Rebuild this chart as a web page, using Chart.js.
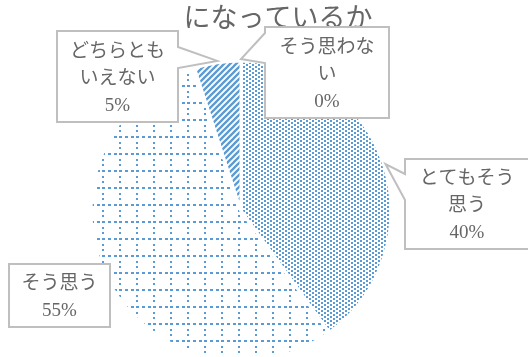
<!DOCTYPE html>
<html>
<head>
<meta charset="utf-8">
<script src="https://cdn.jsdelivr.net/npm/chart.js@4"></script>
<style>
    html, body { margin: 0; padding: 0; background: #fff; }
</style>
</head>
<body>
<canvas id="pieChart" width="528" height="357"></canvas>
<script>
const titleText = 'になっているか';
const categories = ['とてもそう思う', 'そう思う', 'どちらともいえない', 'そう思わない'];
const percentValues = [40, 55, 5, 0];

const blue = '#5b9bd5';
const textColor = '#666666';
const labelFont = '19px "Liberation Serif", "Noto Sans CJK JP", serif';

// callout boxes, same order as categories (placed by hand like in the original sheet)
const calloutBoxes = [
    { x: 405, y: 159, w: 124, h: 90, side: 'left', base: [174, 200] },
    { x: 9, y: 264, w: 101, h: 63, side: null },
    { x: 57, y: 31, w: 121, h: 91, side: 'right', base: [47, 68] },
    { x: 265, y: 27, w: 124, h: 91, side: 'left', base: [33, 63] }
];

function makePattern(w, h, drawTile) {
    const c = document.createElement('canvas');
    c.width = w;
    c.height = h;
    const g = c.getContext('2d');
    g.fillStyle = '#fff';
    g.fillRect(0, 0, w, h);
    g.fillStyle = blue;
    g.strokeStyle = blue;
    drawTile(g);
    return g.createPattern(c, 'repeat');
}

// small staggered dots
const dotPattern = makePattern(6, 4, g => {
    g.fillRect(0, 0, 2, 2);
    g.fillRect(3, 2, 2, 2);
});

// dashed grid
const gridPattern = makePattern(17, 17, g => {
    g.fillRect(0, 0, 3, 2);
    g.fillRect(6, 0, 3, 2);
    g.fillRect(12, 0, 3, 2);
    g.fillRect(0, 6, 2, 2);
    g.fillRect(0, 11, 2, 2);
});

// wide upward diagonal
const diagPattern = makePattern(6, 6, g => {
    g.lineWidth = 2.3;
    g.beginPath();
    g.moveTo(-1, 7); g.lineTo(7, -1);
    g.moveTo(-1, 1); g.lineTo(1, -1);
    g.moveTo(5, 7); g.lineTo(7, 5);
    g.stroke();
});

function wrapLabel(s, n) {
    const lines = [];
    for (let i = 0; i < s.length; i += n) lines.push(s.slice(i, i + n));
    return lines;
}

const calloutPlugin = {
    id: 'callouts',
    afterDatasetsDraw(chart) {
        const ctx = chart.ctx;
        const arcs = chart.getDatasetMeta(0).data;
        const total = percentValues.reduce((a, b) => a + b, 0);

        ctx.save();
        ctx.fillStyle = textColor;
        ctx.font = '27px "Liberation Serif", "Noto Sans CJK JP", serif';
        ctx.textAlign = 'center';
        ctx.textBaseline = 'middle';
        ctx.fillText(titleText, 278, 20);

        arcs.forEach((arc, i) => {
            const box = calloutBoxes[i];
            const mid = (arc.startAngle + arc.endAngle) / 2;
            const r = arc.outerRadius + 2;
            const tip = { x: arc.x + Math.cos(mid) * r, y: arc.y + Math.sin(mid) * r };

            ctx.beginPath();
            ctx.moveTo(box.x, box.y);
            ctx.lineTo(box.x + box.w, box.y);
            if (box.side === 'right') {
                ctx.lineTo(box.x + box.w, box.base[0]);
                ctx.lineTo(tip.x, tip.y);
                ctx.lineTo(box.x + box.w, box.base[1]);
            }
            ctx.lineTo(box.x + box.w, box.y + box.h);
            ctx.lineTo(box.x, box.y + box.h);
            if (box.side === 'left') {
                ctx.lineTo(box.x, box.base[1]);
                ctx.lineTo(tip.x, tip.y);
                ctx.lineTo(box.x, box.base[0]);
            }
            ctx.closePath();
            ctx.fillStyle = '#fff';
            ctx.fill();
            ctx.strokeStyle = '#bfbfbf';
            ctx.lineWidth = 2;
            ctx.stroke();

            const lines = wrapLabel(categories[i], 5);
            lines.push(Math.round(percentValues[i] / total * 100) + '%');
            const lh = 27;
            const cx = box.x + box.w / 2;
            const top = box.y + box.h / 2 - (lines.length - 1) * lh / 2 + 2.5;
            ctx.fillStyle = textColor;
            ctx.font = labelFont;
            lines.forEach((ln, k) => ctx.fillText(ln, cx, top + k * lh));
        });
        ctx.restore();
    }
};

const ctx = document.getElementById('pieChart').getContext('2d');
const pieChart = new Chart(ctx, {
    type: 'pie',
    data: {
        labels: categories,
        datasets: [{
            data: percentValues,
            backgroundColor: [dotPattern, gridPattern, diagPattern, blue],
            borderColor: '#fff',
            borderWidth: 3
        }]
    },
    options: {
        responsive: false,
        animation: false,
        radius: 150,
        layout: {
            padding: { top: 65, bottom: 0, left: 0, right: 46 }
        },
        plugins: {
            legend: { display: false },
            tooltip: { enabled: false },
            title: { display: false }
        }
    },
    plugins: [calloutPlugin]
});
</script>
</body>
</html>
